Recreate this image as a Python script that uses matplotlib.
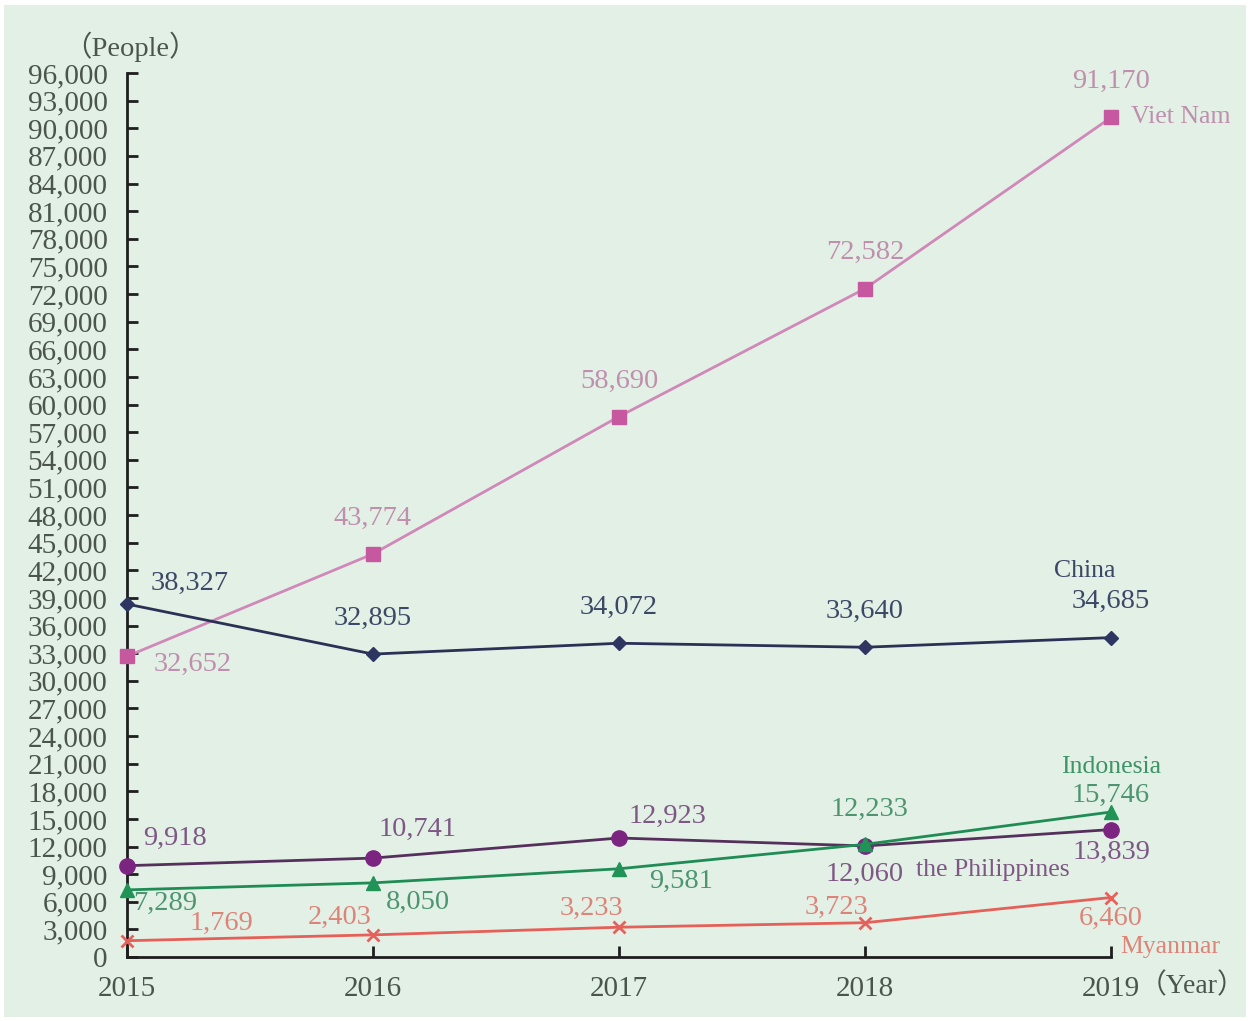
import matplotlib.pyplot as plt
from matplotlib.patches import Rectangle

# Foreign workers by nationality (people)
years = [2015, 2016, 2017, 2018, 2019]
viet_nam = [32652, 43774, 58690, 72582, 91170]
china = [38327, 32895, 34072, 33640, 34685]
philippines = [9918, 10741, 12923, 12060, 13839]
indonesia = [7289, 8050, 9581, 12233, 15746]
myanmar = [1769, 2403, 3233, 3723, 6460]

yticks = list(range(0, 96001, 3000))

plt.rcParams['font.family'] = ['Liberation Serif', 'Noto Sans CJK JP']

fig = plt.figure(figsize=(12.5, 10.21), dpi=100, facecolor='white')
fig.patches.append(Rectangle((4 / 1250, 4 / 1021), 1242 / 1250, 1012 / 1021,
                             transform=fig.transFigure, facecolor='#e3f0e6',
                             edgecolor='none', zorder=0))

ax = fig.add_axes([127 / 1250, 64 / 1021, 984 / 1250, 884 / 1021])
ax.set_zorder(2)
ax.set_facecolor('none')
ax.set_xlim(2015, 2019)
ax.set_ylim(0, 96000)
for s in ['top', 'right']:
    ax.spines[s].set_visible(False)
for s in ['left', 'bottom']:
    ax.spines[s].set_color('#1e1e1e')
    ax.spines[s].set_linewidth(2)
    ax.spines[s].set_clip_on(False)

txt = '#4a554c'
ax.set_yticks(yticks)
ax.set_yticklabels([f'{v:,}' for v in yticks])
ax.set_xticks(years)
ax.set_xticklabels([str(y) for y in years])
ax.tick_params(axis='both', direction='in', length=8, width=2, color='#1e1e1e',
               labelsize=21, labelcolor=txt)
ax.tick_params(axis='y', pad=14)
ax.tick_params(axis='x', pad=14)

series = [
    (viet_nam, '#cf88b8', '#c6589f', 's', 10, '#bf8fae'),
    (china, '#2a3155', '#2e3560', 'D', 7, '#3d4866'),
    (philippines, '#55305c', '#7b2581', 'o', 11, '#7e5884'),
    (indonesia, '#1f8c55', '#1f9456', '^', 10, '#4c9570'),
    (myanmar, '#e56058', '#e8605c', 'x', 9, '#dd8479'),
]
for vals, lc, mc, mk, ms, _ in series:
    ax.plot(years, vals, color=lc, lw=2, marker=mk, ms=ms, mfc=mc, mec=mc,
            mew=2 if mk == 'x' else 1, clip_on=False, zorder=3)

# value labels: offsets in pixels from each point
offsets = {
    'viet': [(66, -8), (0, 36), (0, 35), (0, 36), (0, 36)],
    'china': [(63, 21), (0, 36), (0, 36), (0, 36), (0, 36)],
    'phil': [(48, 27), (45, 29), (48, 22), (0, -28), (0, -23)],
    'indo': [(38, -14), (45, -20), (62, -13), (4, 35), (0, 17)],
    'myan': [(94, 17), (-33, 17), (-28, 19), (-28, 15), (0, -21)],
}
for (vals, _, _, _, _, tc), key in zip(series, ['viet', 'china', 'phil', 'indo', 'myan']):
    for x, v, off in zip(years, vals, offsets[key]):
        ax.annotate(f'{v:,}', (x, v), xytext=off, textcoords='offset pixels',
                    ha='center', va='center', fontsize=20.5, color=tc,
                    annotation_clip=False)

# series names
ax.annotate('Viet Nam', (2019, viet_nam[-1]), xytext=(20, 0), textcoords='offset pixels',
            ha='left', va='center', fontsize=18.5, color='#bf8fae', annotation_clip=False)
ax.annotate('China', (2019, china[-1]), xytext=(-26, 67), textcoords='offset pixels',
            ha='center', va='center', fontsize=18.5, color='#3d4866', annotation_clip=False)
ax.annotate('the Philippines', (2019, philippines[-1]), xytext=(-118, -40),
            textcoords='offset pixels', ha='center', va='center', fontsize=18.5,
            color='#7e5884', annotation_clip=False)
ax.annotate('Indonesia', (2019, indonesia[-1]), xytext=(0, 45), textcoords='offset pixels',
            ha='center', va='center', fontsize=18.5, color='#3d9466', annotation_clip=False)
ax.annotate('Myanmar', (2019, myanmar[-1]), xytext=(59, -49), textcoords='offset pixels',
            ha='center', va='center', fontsize=18.5, color='#dd8479', annotation_clip=False)

fig.text(130 / 1250, 1 - 47 / 1021, '（People）', ha='center', va='center',
         fontsize=20.5, color=txt)
fig.text(1139 / 1250, 1 - 986 / 1021, '（Year）', ha='left', va='center',
         fontsize=20, color=txt)

fig.savefig('out.png', dpi=100, facecolor='white')
